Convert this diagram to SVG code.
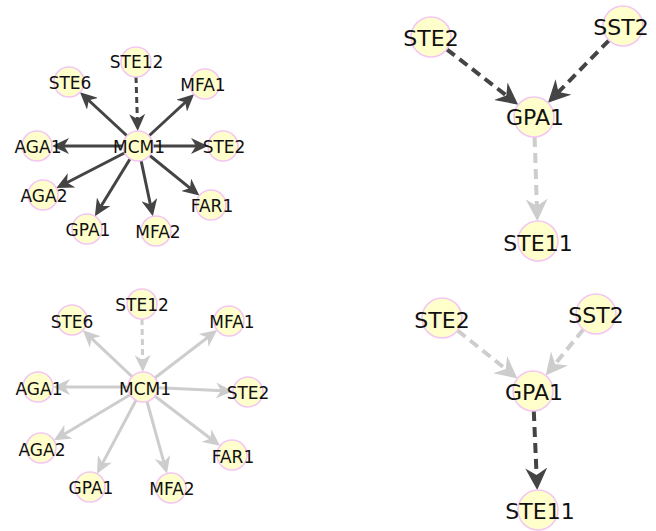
<svg xmlns="http://www.w3.org/2000/svg" width="656" height="531" viewBox="0 0 656 531">
<style>
.n circle{fill:#ffffcc;stroke:#f3c6f3;stroke-width:1.5}
.s text{font-family:"DejaVu Sans",Verdana,sans-serif;font-size:17px;fill:#111;text-anchor:middle}
.b text{font-family:"DejaVu Sans",Verdana,sans-serif;font-size:22px;fill:#111;text-anchor:middle}
.e{fill:none}
.ds{stroke:#444;stroke-width:3;marker-end:url(#mds)}
.ls{stroke:#cdcdcd;stroke-width:3;marker-end:url(#mls)}
.dsd{stroke:#444;stroke-width:3;stroke-dasharray:6 4;marker-end:url(#mds)}
.lsd{stroke:#cdcdcd;stroke-width:3;stroke-dasharray:6 4;marker-end:url(#mls)}
.dbd{stroke:#444;stroke-width:4;stroke-dasharray:10 6;marker-end:url(#mdb)}
.lbd{stroke:#cdcdcd;stroke-width:4;stroke-dasharray:10 6;marker-end:url(#mlb)}
</style>
<defs>
<marker id="mds" markerUnits="userSpaceOnUse" viewBox="0 -8 17 16" markerWidth="17" markerHeight="16" refX="7" refY="0" orient="auto"><path d="M0,-8 L17,0 L0,8 L5,0 Z" fill="#444"/></marker>
<marker id="mls" markerUnits="userSpaceOnUse" viewBox="0 -8 17 16" markerWidth="17" markerHeight="16" refX="7" refY="0" orient="auto"><path d="M0,-8 L17,0 L0,8 L5,0 Z" fill="#cdcdcd"/></marker>
<marker id="mdb" markerUnits="userSpaceOnUse" viewBox="0 -11 22 22" markerWidth="22" markerHeight="22" refX="8" refY="0" orient="auto"><path d="M0,-11 L22,0 L0,11 L7,0 Z" fill="#444"/></marker>
<marker id="mlb" markerUnits="userSpaceOnUse" viewBox="0 -11 22 22" markerWidth="22" markerHeight="22" refX="8" refY="0" orient="auto"><path d="M0,-11 L22,0 L0,11 L7,0 Z" fill="#cdcdcd"/></marker>
</defs>
<rect width="656" height="531" fill="#fff"/>
<g id="edges" class="e">
<line class="ds" x1="138" y1="146" x2="87.3" y2="99"/>
<line class="ds" x1="138" y1="146" x2="186.7" y2="101"/>
<line class="ds" x1="138" y1="146" x2="62" y2="146"/>
<line class="ds" x1="138" y1="146" x2="198" y2="146"/>
<line class="ds" x1="138" y1="146" x2="65.2" y2="183.5"/>
<line class="ds" x1="138" y1="146" x2="191.6" y2="189.3"/>
<line class="ds" x1="138" y1="146" x2="100.1" y2="207.7"/>
<line class="ds" x1="138" y1="146" x2="150.8" y2="206.5"/>
<line class="dsd" x1="136" y1="77" x2="137.4" y2="121"/>
<line class="ls" x1="143" y1="387" x2="90.2" y2="337.2"/>
<line class="ls" x1="143" y1="387" x2="209.2" y2="336.2"/>
<line class="ls" x1="143" y1="387" x2="63" y2="387"/>
<line class="ls" x1="143" y1="387" x2="223" y2="390.8"/>
<line class="ls" x1="143" y1="387" x2="62.5" y2="435.2"/>
<line class="ls" x1="143" y1="387" x2="212.1" y2="439.8"/>
<line class="ls" x1="143" y1="387" x2="101.7" y2="464.9"/>
<line class="ls" x1="143" y1="387" x2="164.3" y2="463.9"/>
<line class="lsd" x1="142" y1="319" x2="142.7" y2="362"/>
<line class="dbd" x1="446.8" y1="49.3" x2="507.1" y2="96.1"/>
<line class="dbd" x1="609" y1="40.3" x2="557.8" y2="92.7"/>
<line class="lbd" x1="534.6" y1="137" x2="536.9" y2="207"/>
<line class="lbd" x1="457.6" y1="330.5" x2="506.5" y2="369.7"/>
<line class="lbd" x1="583.3" y1="329.5" x2="554.5" y2="364.7"/>
<line class="dbd" x1="533.8" y1="411" x2="536.6" y2="476"/>
</g>
<g class="n s">
<g id="tl-MCM1"><circle cx="138" cy="146" r="15"/><text x="139" y="152.5">MCM1</text></g>
<g id="tl-STE12"><circle cx="136" cy="62" r="15"/><text x="136.5" y="68">STE12</text></g>
<g id="tl-STE6"><circle cx="69" cy="82" r="15"/><text x="70" y="88.5">STE6</text></g>
<g id="tl-MFA1"><circle cx="205" cy="84" r="15"/><text x="203" y="90.5">MFA1</text></g>
<g id="tl-AGA1"><circle cx="37" cy="146" r="15"/><text x="38" y="152.5">AGA1</text></g>
<g id="tl-STE2"><circle cx="223" cy="146" r="15"/><text x="224" y="152.5">STE2</text></g>
<g id="tl-AGA2"><circle cx="43" cy="195" r="15"/><text x="44" y="201.5">AGA2</text></g>
<g id="tl-FAR1"><circle cx="211" cy="205" r="15"/><text x="212" y="211.5">FAR1</text></g>
<g id="tl-GPA1"><circle cx="87" cy="229" r="15"/><text x="88" y="236">GPA1</text></g>
<g id="tl-MFA2"><circle cx="156" cy="231" r="15"/><text x="158" y="237.5">MFA2</text></g>
<g id="bl-MCM1"><circle cx="143" cy="387" r="15"/><text x="145" y="395">MCM1</text></g>
<g id="bl-STE12"><circle cx="142" cy="304" r="15"/><text x="142" y="311">STE12</text></g>
<g id="bl-STE6"><circle cx="72" cy="320" r="15"/><text x="72" y="327.5">STE6</text></g>
<g id="bl-MFA1"><circle cx="229" cy="321" r="15"/><text x="232" y="328">MFA1</text></g>
<g id="bl-AGA1"><circle cx="38" cy="387" r="15"/><text x="39" y="395">AGA1</text></g>
<g id="bl-STE2"><circle cx="248" cy="392" r="15"/><text x="248" y="398.5">STE2</text></g>
<g id="bl-AGA2"><circle cx="41" cy="448" r="15"/><text x="42" y="456">AGA2</text></g>
<g id="bl-FAR1"><circle cx="232" cy="455" r="15"/><text x="233" y="462.5">FAR1</text></g>
<g id="bl-GPA1"><circle cx="90" cy="487" r="15"/><text x="91" y="493.5">GPA1</text></g>
<g id="bl-MFA2"><circle cx="171" cy="488" r="15"/><text x="172" y="494.5">MFA2</text></g>
</g>
<g class="n b">
<g id="tr-STE2"><circle cx="431" cy="37" r="20"/><text x="431" y="46">STE2</text></g>
<g id="tr-SST2"><circle cx="623" cy="26" r="20"/><text x="621" y="34.5">SST2</text></g>
<g id="tr-GPA1"><circle cx="534" cy="117" r="20"/><text x="535" y="125">GPA1</text></g>
<g id="tr-STE11"><circle cx="538" cy="241" r="20"/><text x="538" y="251">STE11</text></g>
<g id="br-STE2"><circle cx="442" cy="318" r="20"/><text x="442" y="328">STE2</text></g>
<g id="br-SST2"><circle cx="596" cy="314" r="20"/><text x="596" y="323">SST2</text></g>
<g id="br-GPA1"><circle cx="533" cy="391" r="20"/><text x="534" y="399.5">GPA1</text></g>
<g id="br-STE11"><circle cx="538" cy="510" r="20"/><text x="540" y="519">STE11</text></g>
</g>
</svg>
